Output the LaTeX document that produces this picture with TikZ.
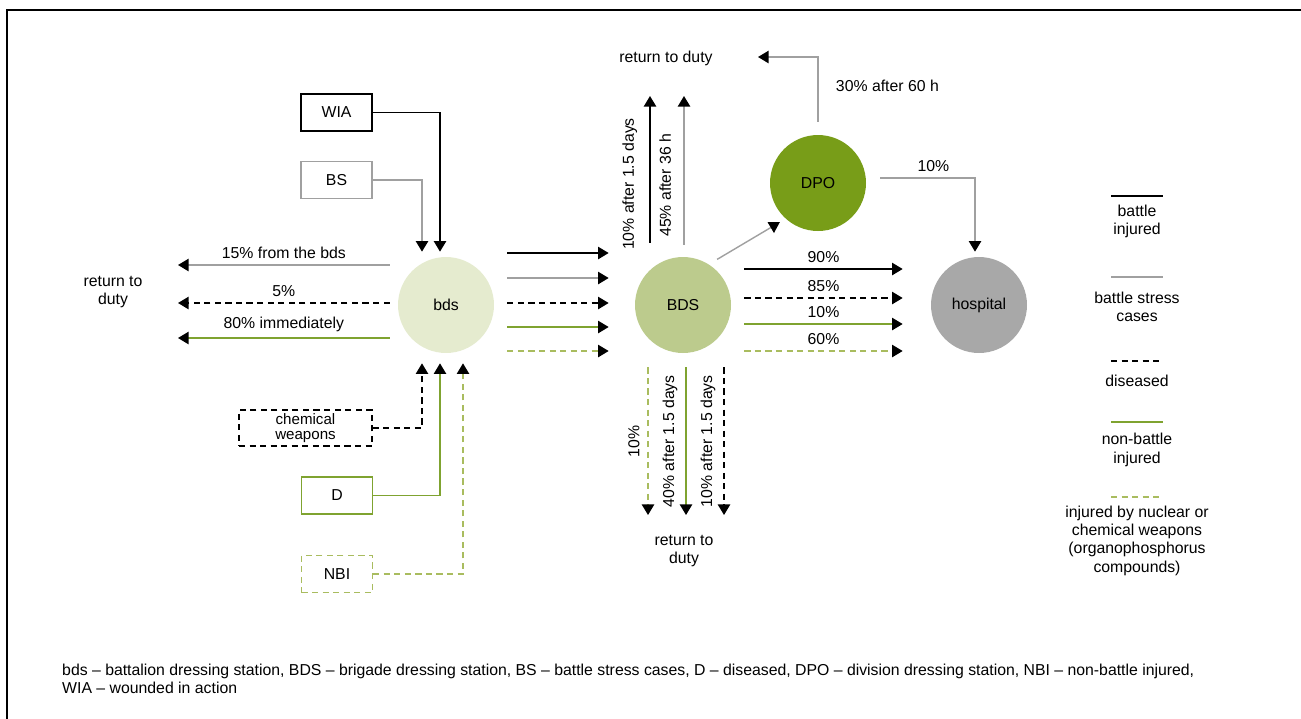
\documentclass[tikz,border=0pt]{standalone}
\usepackage{fontspec}
\setmainfont{Liberation Sans}
\usetikzlibrary{arrows.meta}
\definecolor{bdsfill}{HTML}{E5EBCF}
\definecolor{bdsbig}{HTML}{BCCB8D}
\definecolor{dpofill}{HTML}{789D18}
\definecolor{hospfill}{HTML}{A8A8A8}
\definecolor{stressgray}{HTML}{A0A0A0}
\definecolor{nbgreen}{HTML}{7FA330}
\definecolor{nucgreen}{HTML}{A9BC5F}
\tikzset{
  station/.style={circle, minimum size=1.92cm, inner sep=0pt},
  unit/.style={rectangle, minimum width=1.42cm, minimum height=0.74cm, line width=0.8pt, inner sep=0pt},
  flow/.style={-{Triangle[length=6pt,width=7pt,color=black]}},
  battle/.style={draw=black, line width=0.8pt},
  stress/.style={draw=stressgray, line width=0.8pt},
  disease/.style={draw=black, line width=0.8pt, dash pattern=on 3.5pt off 2.5pt},
  nonbattle/.style={draw=nbgreen, line width=0.8pt},
  nuclear/.style={draw=nucgreen, line width=0.8pt, dash pattern=on 3.5pt off 2.5pt},
  uplabel/.style={rotate=90, anchor=south, outer sep=4pt},
  downlabel/.style={rotate=90, anchor=south, outer sep=1.5pt},
  frame/.style={line width=1.2pt, line cap=rect},
}

\begin{document}
\begin{tikzpicture}[x=0.02cm, y=-0.02cm, font=\fontsize{9}{10.4}\selectfont]
\useasboundingbox (0,0) rectangle (1301,718);
\draw[frame] (7,718) -- (7,10) -- (1301,10);
% stations
\node[station, fill=bdsfill] (bds) at (446,305) {bds};
\node[station, fill=bdsbig] (BDS) at (683,305) {BDS};
\node[station, fill=dpofill] (DPO) at (818,183) {DPO};
\node[station, fill=hospfill] (hosp) at (979,305) {hospital};
% sources
\node[unit, draw=black] (wia) at (336.5,112.5) {WIA};
\node[unit, draw=stressgray] (bs) at (336.5,180) {BS};
\node[unit, disease, minimum width=2.66cm, minimum height=0.72cm, align=center, font=\fontsize{8.6}{10}\selectfont] (chem) at (305.5,428) {\raisebox{-1.5pt}{chemical}\\weapons};
\node[unit, nonbattle] (dis) at (337,495.5) {D};
\node[unit, nuclear] (nbi) at (337,574) {NBI};
% free ends
\coordinate (retL) at (178,305);
\coordinate (retT) at (683,96);
\coordinate (retD) at (758,57);
\coordinate (retB) at (683,515);
\node[align=center] (rtdleft) at (113,292) {return to\\duty};
\node (rtdtop) at (666,58) {return to duty};
\node[align=center] (rtdbot) at (684,551) {return to\\duty};
% into bds
\draw[battle, flow] (wia.east) -| ([shift={(-6,-5)}]bds.north);
\draw[stress, flow] (bs.east) -| ([shift={(-24,-5)}]bds.north);
\draw[disease, flow] (chem.east) -| ([shift={(-24,10)}]bds.south);
\draw[nonbattle, flow] (dis.east) -| ([shift={(-6,10)}]bds.south);
\draw[nuclear, flow] (nbi.east) -| ([shift={(17,10)}]bds.south);
% bds back to duty
\draw[stress, flow] ([shift={(-8,-40)}]bds.west) -- ([shift={(0,-40)}]retL) node[midway, above] (p15) {15\% from the bds};
\draw[disease, flow] ([shift={(-8,-2)}]bds.west) -- ([shift={(0,-2)}]retL) node[midway, above] (p5) {5\%};
\draw[nonbattle, flow] ([shift={(-8,33)}]bds.west) -- ([shift={(0,33)}]retL) node[midway, above] (p80) {80\% immediately};
% bds to BDS
\draw[battle, flow] ([shift={(13,-52)}]bds.east) -- ([shift={(-26,-52)}]BDS.west);
\draw[stress, flow] ([shift={(13,-27)}]bds.east) -- ([shift={(-26,-27)}]BDS.west);
\draw[disease, flow] ([shift={(13,-2)}]bds.east) -- ([shift={(-26,-2)}]BDS.west);
\draw[nonbattle, flow] ([shift={(13,22)}]bds.east) -- ([shift={(-26,22)}]BDS.west);
\draw[nuclear, flow] ([shift={(13,46)}]bds.east) -- ([shift={(-26,46)}]BDS.west);
% BDS back to duty
\draw[battle, flow] ([shift={(-33,-14)}]BDS.north) -- ([shift={(-33,0)}]retT) node[pos=0.4, uplabel] (u10) {10\% after 1.5 days};
\draw[stress, flow] ([shift={(1,-12)}]BDS.north) -- ([shift={(1,0)}]retT) node[pos=0.4, uplabel] (u45) {45\% after 36 h};
\draw[nuclear, flow] ([shift={(-35,14)}]BDS.south) -- ([shift={(-35,0)}]retB) node[midway, downlabel] (d10) {10\%};
\draw[nonbattle, flow] ([shift={(3,14)}]BDS.south) -- ([shift={(3,0)}]retB) node[midway, downlabel] (d40) {40\% after 1.5 days};
\draw[disease, flow] ([shift={(41,14)}]BDS.south) -- ([shift={(41,0)}]retB) node[midway, downlabel] (d10b) {10\% after 1.5 days};
% BDS to DPO and hospital
\draw[stress, flow] ([shift={(5,-7)}]BDS.53) -- ([shift={(-4,5)}]DPO.225);
\draw[battle, flow] ([shift={(13,-36)}]BDS.east) -- ([shift={(-28,-36)}]hosp.west) node[midway, above] (h90) {90\%};
\draw[disease, flow] ([shift={(13,-7)}]BDS.east) -- ([shift={(-28,-7)}]hosp.west) node[midway, above] (h85) {85\%};
\draw[nonbattle, flow] ([shift={(13,19)}]BDS.east) -- ([shift={(-28,19)}]hosp.west) node[midway, above] (h10) {10\%};
\draw[nuclear, flow] ([shift={(13,46)}]BDS.east) -- ([shift={(-28,46)}]hosp.west) node[midway, above] (h60) {60\%};
% DPO
\draw[stress, flow] ([shift={(0,-13)}]DPO.north) |- (retD) node[pos=0.28, right=6.5pt] (p30) {30\% after 60 h};
\draw[stress, flow] ([shift={(14,-5)}]DPO.east) -| ([shift={(-4,-5)}]hosp.north) node[pos=0.28, above] (p10) {10\%};
% legend
\draw[battle] (1111,196) -- (1163,196);
\node[align=center] (lgbattle) at (1137,221.5) {battle\\injured};
\draw[stress] (1111,277) -- (1163,277);
\node[align=center] (lgstress) at (1137,306.5) {battle stress\\cases};
\draw[disease] (1111,361) -- (1163,361);
\node (lgdisease) at (1137,381) {diseased};
\draw[nonbattle] (1111,422) -- (1163,422);
\node[align=center] (lgnonbattle) at (1137,450) {non-battle\\injured};
\draw[nuclear] (1111,497) -- (1163,497);
\node[align=center] (lgnuclear) at (1137,540.5) {injured by nuclear or\\chemical weapons\\(organophosphorus\\compounds)};
% notes
\node[anchor=west, align=left] (notes) at (56,679) {bds -- battalion dressing station, BDS -- brigade dressing station, BS -- battle stress cases, D -- diseased, DPO -- division dressing station, NBI -- non-battle injured,\\WIA -- wounded in action};
\end{tikzpicture}
\end{document}
